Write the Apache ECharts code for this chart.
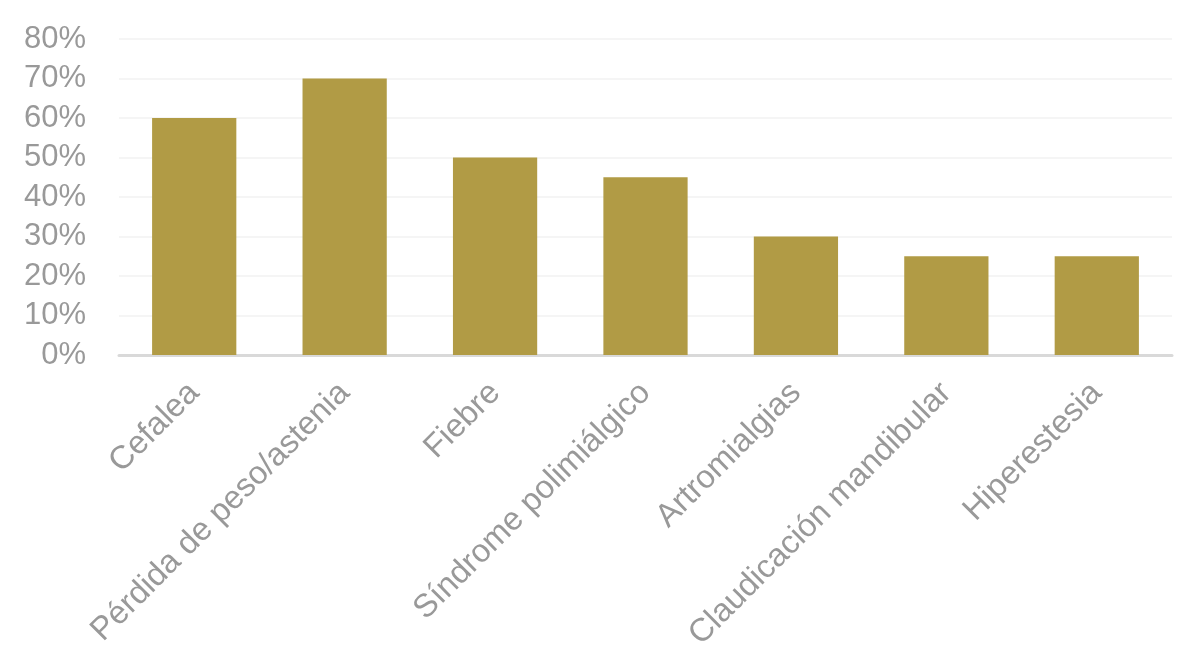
<!DOCTYPE html>
<html>
<head>
<meta charset="utf-8">
<script src="https://cdn.jsdelivr.net/npm/echarts@6/dist/echarts.min.js"></script>
<style>
  html, body { margin: 0; padding: 0; background: #fff; }
  #chart { width: 1178px; height: 651px; }
</style>
</head>
<body>
<div id="chart"></div>
<script>
// categorias y porcentajes
var categories = ['Cefalea', 'Pérdida de peso/astenia', 'Fiebre', 'Síndrome polimiálgico',
  'Artromialgias', 'Claudicación mandibular', 'Hiperestesia'];
var values = [60, 70, 50, 45, 30, 25, 25];
var yTicks = [0, 10, 20, 30, 40, 50, 60, 70, 80];

var chart = echarts.init(document.getElementById('chart'), null, { renderer: 'canvas' });

var option = {
  animation: false,
  grid: {
    left: 119,
    right: 6,
    top: 39,
    bottom: 296,
    containLabel: false,
    outerBoundsMode: 'none'
  },
  xAxis: {
    type: 'category',
    data: categories,
    axisLine: { lineStyle: { color: '#d9d9d9', width: 3 } },
    axisTick: { show: false },
    axisLabel: {
      rotate: 45,
      margin: 33,
      color: '#999999',
      fontSize: 32.5,
      fontFamily: 'Liberation Sans, Arial, sans-serif',
      interval: 0
    }
  },
  yAxis: {
    type: 'value',
    min: yTicks[0],
    max: yTicks[yTicks.length - 1],
    interval: 10,
    axisLine: { show: false },
    axisTick: { show: false },
    splitLine: { lineStyle: { color: '#f2f2f2', width: 1.5 } },
    axisLabel: {
      formatter: '{value}%',
      margin: 33,
      color: '#999999',
      fontSize: 31,
      fontFamily: 'Liberation Sans, Arial, sans-serif'
    }
  },
  series: [{
    type: 'bar',
    data: values,
    barWidth: '56%',
    itemStyle: { color: '#b19b45' }
  }]
};
chart.setOption(option);
</script>
</body>
</html>
